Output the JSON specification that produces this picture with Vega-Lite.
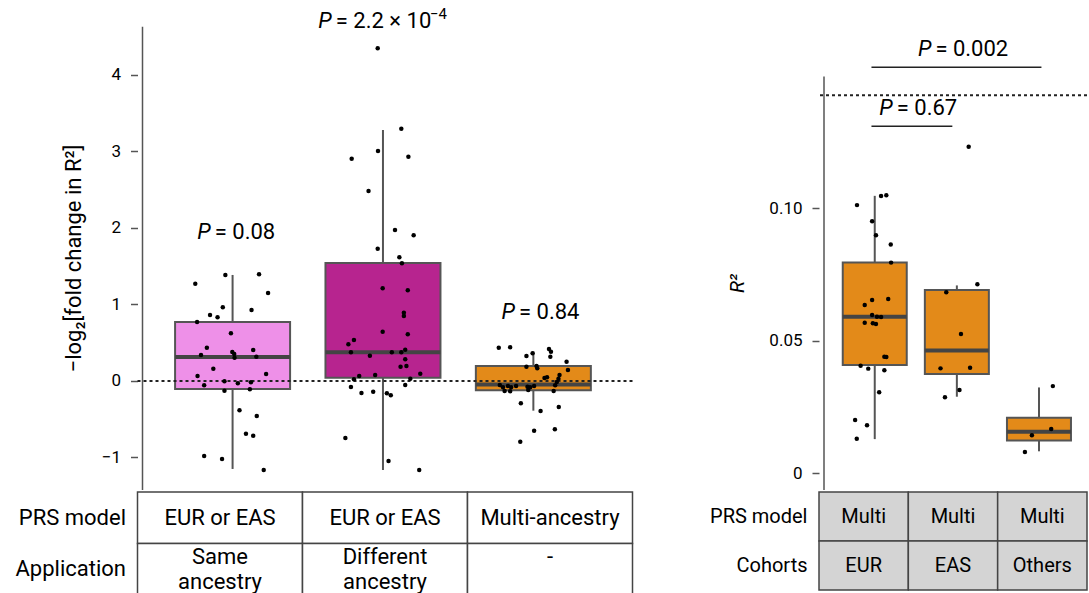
{
  "$schema": "https://vega.github.io/schema/vega-lite/v6.json",
  "padding": {"left": 14.5, "top": 0, "right": 0, "bottom": 0},
  "autosize": {"type": "pad"},
  "config": {"font": "Roboto", "view": {"stroke": null}, "axis": {"grid": false}},
  "datasets": {
    "boxL": [
      {"x": 1, "grp": "a", "lo": -1.15, "q1": -0.105, "med": 0.314, "q3": 0.771, "hi": 1.386},
      {"x": 2, "grp": "b", "lo": -1.163, "q1": 0.043, "med": 0.375, "q3": 1.542, "hi": 3.281},
      {"x": 3, "grp": "c", "lo": -0.388, "q1": -0.122, "med": -0.046, "q3": 0.196, "hi": 0.383}
    ],
    "ptsL": [
      {"x": 0.952, "v": 1.386}, {"x": 1.176, "v": 1.395}, {"x": 0.752, "v": 1.272}, {"x": 1.236, "v": 1.15},
      {"x": 0.935, "v": 0.963}, {"x": 1.126, "v": 0.928}, {"x": 0.85, "v": 0.863}, {"x": 0.9, "v": 0.833},
      {"x": 0.764, "v": 0.771}, {"x": 0.989, "v": 0.624}, {"x": 0.829, "v": 0.435}, {"x": 1.137, "v": 0.405},
      {"x": 0.998, "v": 0.379}, {"x": 1.011, "v": 0.353}, {"x": 0.79, "v": 0.34}, {"x": 1.158, "v": 0.318},
      {"x": 1.013, "v": 0.305}, {"x": 0.872, "v": 0.161}, {"x": 1.223, "v": 0.092}, {"x": 0.767, "v": 0.065},
      {"x": 0.946, "v": -0.004}, {"x": 1.122, "v": -0.017}, {"x": 1.035, "v": -0.03}, {"x": 0.811, "v": -0.056},
      {"x": 0.946, "v": -0.127}, {"x": 1.115, "v": -0.108}, {"x": 1.046, "v": -0.383}, {"x": 1.161, "v": -0.458},
      {"x": 1.089, "v": -0.689}, {"x": 1.137, "v": -0.715}, {"x": 0.811, "v": -0.98}, {"x": 0.93, "v": -1.02},
      {"x": 1.207, "v": -1.163},
      {"x": 1.965, "v": 4.349}, {"x": 2.122, "v": 3.298}, {"x": 1.967, "v": 3.007}, {"x": 2.169, "v": 2.932},
      {"x": 1.792, "v": 2.906}, {"x": 1.904, "v": 2.484}, {"x": 2.08, "v": 1.974}, {"x": 2.204, "v": 1.905},
      {"x": 1.965, "v": 1.729}, {"x": 2.109, "v": 1.617}, {"x": 2.126, "v": 1.539}, {"x": 1.998, "v": 1.212},
      {"x": 2.165, "v": 1.186}, {"x": 2.139, "v": 0.893}, {"x": 2.139, "v": 0.85}, {"x": 1.998, "v": 0.644},
      {"x": 2.165, "v": 0.61}, {"x": 1.807, "v": 0.536}, {"x": 1.77, "v": 0.48}, {"x": 1.787, "v": 0.375},
      {"x": 1.913, "v": 0.331}, {"x": 2.059, "v": 0.375}, {"x": 2.122, "v": 0.375}, {"x": 2.148, "v": 0.409},
      {"x": 2.148, "v": 0.284}, {"x": 2.117, "v": 0.187}, {"x": 2.156, "v": 0.196}, {"x": 2.248, "v": 0.095},
      {"x": 1.842, "v": 0.065}, {"x": 1.948, "v": 0.078}, {"x": 1.807, "v": 0.022}, {"x": 2.182, "v": 0.03},
      {"x": 1.787, "v": -0.078}, {"x": 2.148, "v": -0.052}, {"x": 1.857, "v": -0.157}, {"x": 1.935, "v": -0.14},
      {"x": 2.026, "v": -0.161}, {"x": 2.052, "v": -0.187}, {"x": 1.75, "v": -0.745}, {"x": 2.037, "v": -1.046},
      {"x": 2.241, "v": -1.163},
      {"x": 2.77, "v": 0.435}, {"x": 2.846, "v": 0.441}, {"x": 3.104, "v": 0.418}, {"x": 3.117, "v": 0.383},
      {"x": 2.995, "v": 0.362}, {"x": 2.954, "v": 0.327}, {"x": 3.113, "v": 0.318}, {"x": 3.221, "v": 0.252},
      {"x": 2.954, "v": 0.187}, {"x": 3.021, "v": 0.196}, {"x": 3.026, "v": 0.166}, {"x": 3.23, "v": 0.144},
      {"x": 3.091, "v": 0.048}, {"x": 3.074, "v": 0.039}, {"x": 3.174, "v": 0.078}, {"x": 3.167, "v": 0.03},
      {"x": 3.156, "v": -0.013}, {"x": 3.145, "v": -0.056}, {"x": 2.777, "v": -0.052}, {"x": 2.798, "v": -0.082},
      {"x": 2.831, "v": -0.065}, {"x": 2.852, "v": -0.082}, {"x": 2.885, "v": -0.065}, {"x": 2.809, "v": -0.131},
      {"x": 2.846, "v": -0.135}, {"x": 2.961, "v": -0.075}, {"x": 2.979, "v": -0.082}, {"x": 3.005, "v": -0.065},
      {"x": 2.966, "v": -0.118}, {"x": 3.135, "v": -0.131}, {"x": 2.917, "v": -0.292}, {"x": 3.048, "v": -0.392},
      {"x": 3.169, "v": -0.34}, {"x": 3.005, "v": -0.65}, {"x": 3.143, "v": -0.631}, {"x": 2.913, "v": -0.793}
    ],
    "annL": [
      {"x": 0.855, "v": 1.95, "t": "\u00a0= 0.08"},
      {"x": 1.66, "v": 4.7, "t": "\u00a0= 2.2 × 10"},
      {"x": 2.878, "v": 0.906, "t": "\u00a0= 0.84"}
    ],
    "supL": [
      {"x": 2.312, "v": 4.8, "t": "−4"}
    ],
    "domL": [
      {"x": 0.401, "lo": -1.425, "hi": 4.63, "zero": 0}
    ],
    "boxR": [
      {"x": 1, "lo": 0.0128, "q1": 0.0408, "med": 0.059, "q3": 0.0794, "hi": 0.1046},
      {"x": 2, "lo": 0.0288, "q1": 0.0374, "med": 0.0462, "q3": 0.0691, "hi": 0.0708},
      {"x": 3, "lo": 0.0082, "q1": 0.0123, "med": 0.0156, "q3": 0.0209, "hi": 0.0323}
    ],
    "ptsR": [
      {"x": 1.077, "v": 0.1045}, {"x": 1.141, "v": 0.1048}, {"x": 0.784, "v": 0.1011}, {"x": 0.968, "v": 0.095},
      {"x": 1.015, "v": 0.0897}, {"x": 1.195, "v": 0.0862}, {"x": 1.199, "v": 0.0794}, {"x": 1.164, "v": 0.0657},
      {"x": 0.968, "v": 0.0653}, {"x": 0.878, "v": 0.0634}, {"x": 0.968, "v": 0.0596}, {"x": 1.027, "v": 0.059},
      {"x": 1.077, "v": 0.0589}, {"x": 0.878, "v": 0.0567}, {"x": 0.977, "v": 0.0565}, {"x": 1.015, "v": 0.0562},
      {"x": 1.117, "v": 0.0439}, {"x": 1.141, "v": 0.0438}, {"x": 0.828, "v": 0.0405}, {"x": 0.921, "v": 0.0394},
      {"x": 1.117, "v": 0.0388}, {"x": 1.054, "v": 0.0305}, {"x": 0.761, "v": 0.02}, {"x": 0.906, "v": 0.018},
      {"x": 0.781, "v": 0.0129},
      {"x": 2.144, "v": 0.1231}, {"x": 2.25, "v": 0.0712}, {"x": 1.871, "v": 0.0682}, {"x": 2.05, "v": 0.0525},
      {"x": 1.801, "v": 0.0395}, {"x": 2.161, "v": 0.0397}, {"x": 2.032, "v": 0.0313}, {"x": 1.855, "v": 0.0286},
      {"x": 3.169, "v": 0.0328}, {"x": 3.149, "v": 0.0166}, {"x": 2.914, "v": 0.0143}, {"x": 2.829, "v": 0.0079}
    ],
    "annR": [
      {"x": 1.69, "v": 0.16, "t": "\u00a0= 0.002"},
      {"x": 1.22, "v": 0.1376, "t": "\u00a0= 0.67"}
    ],
    "brR": [
      {"x": 0.96, "x2": 3.03, "v": 0.1531},
      {"x": 0.96, "x2": 1.945, "v": 0.1309}
    ],
    "domR": [
      {"x": 0.382, "lo": -0.0064, "hi": 0.1496, "ref": 0.1426}
    ],
    "tabL": [
      {"row": "PRS model", "col": "a", "t": "EUR or EAS"},
      {"row": "PRS model", "col": "b", "t": "EUR or EAS"},
      {"row": "PRS model", "col": "c", "t": "Multi-ancestry"},
      {"row": "Application", "col": "a", "t": "Same\nancestry"},
      {"row": "Application", "col": "b", "t": "Different\nancestry"},
      {"row": "Application", "col": "c", "t": "-"}
    ],
    "tabR": [
      {"row": "PRS model", "col": "a", "t": "Multi"},
      {"row": "PRS model", "col": "b", "t": "Multi"},
      {"row": "PRS model", "col": "c", "t": "Multi"},
      {"row": "Cohorts", "col": "a", "t": "EUR"},
      {"row": "Cohorts", "col": "b", "t": "EAS"},
      {"row": "Cohorts", "col": "c", "t": "Others"}
    ]
  },
  "spacing": 75.5,
  "hconcat": [
    {
      "spacing": 0,
      "vconcat": [
        {
          "width": 495,
          "height": 490,
          "layer": [
            {
              "data": {"name": "boxL"},
              "mark": {"type": "rule", "color": "#555555", "strokeWidth": 2},
              "encoding": {
                "x": {"field": "x", "type": "quantitative", "scale": {"domain": [0.401, 3.626], "nice": false, "zero": false}, "axis": null},
                "y": {"field": "lo", "type": "quantitative", "scale": {"domain": [-1.425, 4.98], "nice": false, "zero": false},
                  "axis": {"values": [-1, 0, 1, 2, 3, 4], "domain": false, "tickSize": 7, "tickColor": "#555555", "tickWidth": 1.5, "labelFontSize": 17, "labelPadding": 10, "labelColor": "#000000", "title": "−log₂[fold change in R²]", "titleFontSize": 22, "titleFontWeight": "normal", "titleColor": "#000000", "titleX": -52, "titleY": 258}},
                "y2": {"field": "hi"}
              }
            },
            {
              "data": {"name": "boxL"},
              "mark": {"type": "bar", "size": 115, "stroke": "#555555", "strokeWidth": 2},
              "encoding": {
                "x": {"field": "x", "type": "quantitative", "scale": {"domain": [0.401, 3.626], "nice": false, "zero": false}, "axis": null},
                "y": {"field": "q1", "type": "quantitative", "scale": {"domain": [-1.425, 4.98], "nice": false, "zero": false},
                  "axis": {"values": [-1, 0, 1, 2, 3, 4], "domain": false, "tickSize": 7, "tickColor": "#555555", "tickWidth": 1.5, "labelFontSize": 17, "labelPadding": 10, "labelColor": "#000000", "title": "−log₂[fold change in R²]", "titleFontSize": 22, "titleFontWeight": "normal", "titleColor": "#000000", "titleX": -52, "titleY": 258}},
                "y2": {"field": "q3"},
                "color": {"field": "grp", "type": "nominal", "scale": {"domain": ["a", "b", "c"], "range": ["#EE90E8", "#B7248F", "#E38A19"]}, "legend": null}
              }
            },
            {
              "data": {"name": "boxL"},
              "mark": {"type": "tick", "orient": "horizontal", "size": 115, "thickness": 4, "color": "#444444", "opacity": 1},
              "encoding": {
                "x": {"field": "x", "type": "quantitative", "scale": {"domain": [0.401, 3.626], "nice": false, "zero": false}, "axis": null},
                "y": {"field": "med", "type": "quantitative", "scale": {"domain": [-1.425, 4.98], "nice": false, "zero": false},
                  "axis": {"values": [-1, 0, 1, 2, 3, 4], "domain": false, "tickSize": 7, "tickColor": "#555555", "tickWidth": 1.5, "labelFontSize": 17, "labelPadding": 10, "labelColor": "#000000", "title": "−log₂[fold change in R²]", "titleFontSize": 22, "titleFontWeight": "normal", "titleColor": "#000000", "titleX": -52, "titleY": 258}}
              }
            },
            {
              "data": {"name": "domL"},
              "mark": {"type": "rule", "color": "#555555", "strokeWidth": 1.5},
              "encoding": {
                "x": {"field": "x", "type": "quantitative", "scale": {"domain": [0.401, 3.626], "nice": false, "zero": false}, "axis": null},
                "y": {"field": "lo", "type": "quantitative", "scale": {"domain": [-1.425, 4.98], "nice": false, "zero": false},
                  "axis": {"values": [-1, 0, 1, 2, 3, 4], "domain": false, "tickSize": 7, "tickColor": "#555555", "tickWidth": 1.5, "labelFontSize": 17, "labelPadding": 10, "labelColor": "#000000", "title": "−log₂[fold change in R²]", "titleFontSize": 22, "titleFontWeight": "normal", "titleColor": "#000000", "titleX": -52, "titleY": 258}},
                "y2": {"field": "hi"}
              }
            },
            {
              "data": {"name": "domL"},
              "mark": {"type": "rule", "color": "#222222", "strokeWidth": 2, "strokeDash": [3, 3]},
              "encoding": {
                "y": {"field": "zero", "type": "quantitative", "scale": {"domain": [-1.425, 4.98], "nice": false, "zero": false},
                  "axis": {"values": [-1, 0, 1, 2, 3, 4], "domain": false, "tickSize": 7, "tickColor": "#555555", "tickWidth": 1.5, "labelFontSize": 17, "labelPadding": 10, "labelColor": "#000000", "title": "−log₂[fold change in R²]", "titleFontSize": 22, "titleFontWeight": "normal", "titleColor": "#000000", "titleX": -52, "titleY": 258}}
              }
            },
            {
              "data": {"name": "ptsL"},
              "mark": {"type": "circle", "color": "#000000", "opacity": 1, "size": 20},
              "encoding": {
                "x": {"field": "x", "type": "quantitative", "scale": {"domain": [0.401, 3.626], "nice": false, "zero": false}, "axis": null},
                "y": {"field": "v", "type": "quantitative", "scale": {"domain": [-1.425, 4.98], "nice": false, "zero": false},
                  "axis": {"values": [-1, 0, 1, 2, 3, 4], "domain": false, "tickSize": 7, "tickColor": "#555555", "tickWidth": 1.5, "labelFontSize": 17, "labelPadding": 10, "labelColor": "#000000", "title": "−log₂[fold change in R²]", "titleFontSize": 22, "titleFontWeight": "normal", "titleColor": "#000000", "titleX": -52, "titleY": 258}}
              }
            },
            {
              "data": {"name": "annL"},
              "mark": {"type": "text", "text": "P", "fontStyle": "italic", "fontSize": 22, "align": "right", "baseline": "middle", "color": "#000000"},
              "encoding": {
                "x": {"field": "x", "type": "quantitative", "scale": {"domain": [0.401, 3.626], "nice": false, "zero": false}, "axis": null},
                "y": {"field": "v", "type": "quantitative", "scale": {"domain": [-1.425, 4.98], "nice": false, "zero": false},
                  "axis": {"values": [-1, 0, 1, 2, 3, 4], "domain": false, "tickSize": 7, "tickColor": "#555555", "tickWidth": 1.5, "labelFontSize": 17, "labelPadding": 10, "labelColor": "#000000", "title": "−log₂[fold change in R²]", "titleFontSize": 22, "titleFontWeight": "normal", "titleColor": "#000000", "titleX": -52, "titleY": 258}}
              }
            },
            {
              "data": {"name": "annL"},
              "mark": {"type": "text", "fontSize": 22, "align": "left", "baseline": "middle", "dx": 4, "color": "#000000"},
              "encoding": {
                "x": {"field": "x", "type": "quantitative", "scale": {"domain": [0.401, 3.626], "nice": false, "zero": false}, "axis": null},
                "y": {"field": "v", "type": "quantitative", "scale": {"domain": [-1.425, 4.98], "nice": false, "zero": false},
                  "axis": {"values": [-1, 0, 1, 2, 3, 4], "domain": false, "tickSize": 7, "tickColor": "#555555", "tickWidth": 1.5, "labelFontSize": 17, "labelPadding": 10, "labelColor": "#000000", "title": "−log₂[fold change in R²]", "titleFontSize": 22, "titleFontWeight": "normal", "titleColor": "#000000", "titleX": -52, "titleY": 258}},
                "text": {"field": "t"}
              }
            },
            {
              "data": {"name": "supL"},
              "mark": {"type": "text", "fontSize": 15, "align": "left", "baseline": "middle", "color": "#000000"},
              "encoding": {
                "x": {"field": "x", "type": "quantitative", "scale": {"domain": [0.401, 3.626], "nice": false, "zero": false}, "axis": null},
                "y": {"field": "v", "type": "quantitative", "scale": {"domain": [-1.425, 4.98], "nice": false, "zero": false},
                  "axis": {"values": [-1, 0, 1, 2, 3, 4], "domain": false, "tickSize": 7, "tickColor": "#555555", "tickWidth": 1.5, "labelFontSize": 17, "labelPadding": 10, "labelColor": "#000000", "title": "−log₂[fold change in R²]", "titleFontSize": 22, "titleFontWeight": "normal", "titleColor": "#000000", "titleX": -52, "titleY": 258}},
                "text": {"field": "t"}
              }
            }
          ]
        },
        {
          "width": 495,
          "height": 103,
          "data": {"name": "tabL"},
          "encoding": {
            "x": {"field": "col", "type": "nominal", "scale": {"paddingInner": 0, "paddingOuter": 0}, "axis": null},
            "y": {"field": "row", "type": "nominal", "sort": ["PRS model", "Application"], "scale": {"paddingInner": 0, "paddingOuter": 0},
              "axis": {"title": null, "domain": false, "ticks": false, "labelFontSize": 22, "labelPadding": 12, "labelColor": "#000000", "labelLimit": 300}}
          },
          "layer": [
            {"mark": {"type": "rect", "fill": "#FFFFFF", "stroke": "#444444", "strokeWidth": 1.5}},
            {"transform": [{"filter": "datum.row == 'PRS model'"}], "mark": {"type": "text", "fontSize": 22, "baseline": "middle", "color": "#000000"}, "encoding": {"text": {"field": "t"}}},
            {"transform": [{"filter": "datum.row == 'Application'"}], "mark": {"type": "text", "fontSize": 22, "lineBreak": "\n", "lineHeight": 25, "dy": -12.5, "baseline": "middle", "color": "#000000"}, "encoding": {"text": {"field": "t"}}}
          ]
        }
      ]
    },
    {
      "spacing": 0,
      "vconcat": [
        {
          "width": 268,
          "height": 490,
          "layer": [
            {
              "data": {"name": "boxR"},
              "mark": {"type": "rule", "color": "#555555", "strokeWidth": 2},
              "encoding": {
                "x": {"field": "x", "type": "quantitative", "scale": {"domain": [0.382, 3.524], "nice": false, "zero": false}, "axis": null},
                "y": {"field": "lo", "type": "quantitative", "scale": {"domain": [-0.0064, 0.1785], "nice": false, "zero": false},
                  "axis": {"values": [0, 0.05, 0.1], "labelExpr": "datum.value == 0 ? '0' : format(datum.value, '.2f')", "domain": false, "tickSize": 7, "tickColor": "#555555", "tickWidth": 1.5, "labelFontSize": 17, "labelPadding": 10, "labelColor": "#000000", "title": "R²", "titleFontSize": 20, "titleFontStyle": "italic", "titleFontWeight": "normal", "titleColor": "#000000", "titleX": -72, "titleY": 283}},
                "y2": {"field": "hi"}
              }
            },
            {
              "data": {"name": "boxR"},
              "mark": {"type": "bar", "size": 64, "fill": "#E38A19", "stroke": "#555555", "strokeWidth": 2},
              "encoding": {
                "x": {"field": "x", "type": "quantitative", "scale": {"domain": [0.382, 3.524], "nice": false, "zero": false}, "axis": null},
                "y": {"field": "q1", "type": "quantitative", "scale": {"domain": [-0.0064, 0.1785], "nice": false, "zero": false},
                  "axis": {"values": [0, 0.05, 0.1], "labelExpr": "datum.value == 0 ? '0' : format(datum.value, '.2f')", "domain": false, "tickSize": 7, "tickColor": "#555555", "tickWidth": 1.5, "labelFontSize": 17, "labelPadding": 10, "labelColor": "#000000", "title": "R²", "titleFontSize": 20, "titleFontStyle": "italic", "titleFontWeight": "normal", "titleColor": "#000000", "titleX": -72, "titleY": 283}},
                "y2": {"field": "q3"}
              }
            },
            {
              "data": {"name": "boxR"},
              "mark": {"type": "tick", "orient": "horizontal", "size": 64, "thickness": 4, "color": "#444444", "opacity": 1},
              "encoding": {
                "x": {"field": "x", "type": "quantitative", "scale": {"domain": [0.382, 3.524], "nice": false, "zero": false}, "axis": null},
                "y": {"field": "med", "type": "quantitative", "scale": {"domain": [-0.0064, 0.1785], "nice": false, "zero": false},
                  "axis": {"values": [0, 0.05, 0.1], "labelExpr": "datum.value == 0 ? '0' : format(datum.value, '.2f')", "domain": false, "tickSize": 7, "tickColor": "#555555", "tickWidth": 1.5, "labelFontSize": 17, "labelPadding": 10, "labelColor": "#000000", "title": "R²", "titleFontSize": 20, "titleFontStyle": "italic", "titleFontWeight": "normal", "titleColor": "#000000", "titleX": -72, "titleY": 283}}
              }
            },
            {
              "data": {"name": "domR"},
              "mark": {"type": "rule", "color": "#555555", "strokeWidth": 1.5},
              "encoding": {
                "x": {"field": "x", "type": "quantitative", "scale": {"domain": [0.382, 3.524], "nice": false, "zero": false}, "axis": null},
                "y": {"field": "lo", "type": "quantitative", "scale": {"domain": [-0.0064, 0.1785], "nice": false, "zero": false},
                  "axis": {"values": [0, 0.05, 0.1], "labelExpr": "datum.value == 0 ? '0' : format(datum.value, '.2f')", "domain": false, "tickSize": 7, "tickColor": "#555555", "tickWidth": 1.5, "labelFontSize": 17, "labelPadding": 10, "labelColor": "#000000", "title": "R²", "titleFontSize": 20, "titleFontStyle": "italic", "titleFontWeight": "normal", "titleColor": "#000000", "titleX": -72, "titleY": 283}},
                "y2": {"field": "hi"}
              }
            },
            {
              "data": {"name": "domR"},
              "mark": {"type": "rule", "color": "#222222", "strokeWidth": 2, "strokeDash": [3, 3]},
              "encoding": {
                "y": {"field": "ref", "type": "quantitative", "scale": {"domain": [-0.0064, 0.1785], "nice": false, "zero": false},
                  "axis": {"values": [0, 0.05, 0.1], "labelExpr": "datum.value == 0 ? '0' : format(datum.value, '.2f')", "domain": false, "tickSize": 7, "tickColor": "#555555", "tickWidth": 1.5, "labelFontSize": 17, "labelPadding": 10, "labelColor": "#000000", "title": "R²", "titleFontSize": 20, "titleFontStyle": "italic", "titleFontWeight": "normal", "titleColor": "#000000", "titleX": -72, "titleY": 283}}
              }
            },
            {
              "data": {"name": "brR"},
              "mark": {"type": "rule", "color": "#222222", "strokeWidth": 1.5},
              "encoding": {
                "x": {"field": "x", "type": "quantitative", "scale": {"domain": [0.382, 3.524], "nice": false, "zero": false}, "axis": null},
                "x2": {"field": "x2"},
                "y": {"field": "v", "type": "quantitative", "scale": {"domain": [-0.0064, 0.1785], "nice": false, "zero": false},
                  "axis": {"values": [0, 0.05, 0.1], "labelExpr": "datum.value == 0 ? '0' : format(datum.value, '.2f')", "domain": false, "tickSize": 7, "tickColor": "#555555", "tickWidth": 1.5, "labelFontSize": 17, "labelPadding": 10, "labelColor": "#000000", "title": "R²", "titleFontSize": 20, "titleFontStyle": "italic", "titleFontWeight": "normal", "titleColor": "#000000", "titleX": -72, "titleY": 283}}
              }
            },
            {
              "data": {"name": "ptsR"},
              "mark": {"type": "circle", "color": "#000000", "opacity": 1, "size": 20},
              "encoding": {
                "x": {"field": "x", "type": "quantitative", "scale": {"domain": [0.382, 3.524], "nice": false, "zero": false}, "axis": null},
                "y": {"field": "v", "type": "quantitative", "scale": {"domain": [-0.0064, 0.1785], "nice": false, "zero": false},
                  "axis": {"values": [0, 0.05, 0.1], "labelExpr": "datum.value == 0 ? '0' : format(datum.value, '.2f')", "domain": false, "tickSize": 7, "tickColor": "#555555", "tickWidth": 1.5, "labelFontSize": 17, "labelPadding": 10, "labelColor": "#000000", "title": "R²", "titleFontSize": 20, "titleFontStyle": "italic", "titleFontWeight": "normal", "titleColor": "#000000", "titleX": -72, "titleY": 283}}
              }
            },
            {
              "data": {"name": "annR"},
              "mark": {"type": "text", "text": "P", "fontStyle": "italic", "fontSize": 22, "align": "right", "baseline": "middle", "color": "#000000"},
              "encoding": {
                "x": {"field": "x", "type": "quantitative", "scale": {"domain": [0.382, 3.524], "nice": false, "zero": false}, "axis": null},
                "y": {"field": "v", "type": "quantitative", "scale": {"domain": [-0.0064, 0.1785], "nice": false, "zero": false},
                  "axis": {"values": [0, 0.05, 0.1], "labelExpr": "datum.value == 0 ? '0' : format(datum.value, '.2f')", "domain": false, "tickSize": 7, "tickColor": "#555555", "tickWidth": 1.5, "labelFontSize": 17, "labelPadding": 10, "labelColor": "#000000", "title": "R²", "titleFontSize": 20, "titleFontStyle": "italic", "titleFontWeight": "normal", "titleColor": "#000000", "titleX": -72, "titleY": 283}}
              }
            },
            {
              "data": {"name": "annR"},
              "mark": {"type": "text", "fontSize": 22, "align": "left", "baseline": "middle", "dx": 4, "color": "#000000"},
              "encoding": {
                "x": {"field": "x", "type": "quantitative", "scale": {"domain": [0.382, 3.524], "nice": false, "zero": false}, "axis": null},
                "y": {"field": "v", "type": "quantitative", "scale": {"domain": [-0.0064, 0.1785], "nice": false, "zero": false},
                  "axis": {"values": [0, 0.05, 0.1], "labelExpr": "datum.value == 0 ? '0' : format(datum.value, '.2f')", "domain": false, "tickSize": 7, "tickColor": "#555555", "tickWidth": 1.5, "labelFontSize": 17, "labelPadding": 10, "labelColor": "#000000", "title": "R²", "titleFontSize": 20, "titleFontStyle": "italic", "titleFontWeight": "normal", "titleColor": "#000000", "titleX": -72, "titleY": 283}},
                "text": {"field": "t"}
              }
            }
          ]
        },
        {
          "width": 268,
          "height": 98,
          "data": {"name": "tabR"},
          "encoding": {
            "x": {"field": "col", "type": "nominal", "scale": {"paddingInner": 0, "paddingOuter": 0}, "axis": null},
            "y": {"field": "row", "type": "nominal", "sort": ["PRS model", "Cohorts"], "scale": {"paddingInner": 0, "paddingOuter": 0},
              "axis": {"title": null, "domain": false, "ticks": false, "labelFontSize": 20, "labelPadding": 12, "labelColor": "#000000", "labelLimit": 300}}
          },
          "layer": [
            {"mark": {"type": "rect", "fill": "#D4D4D4", "stroke": "#444444", "strokeWidth": 1.5}},
            {"mark": {"type": "text", "fontSize": 20, "baseline": "middle", "color": "#000000"}, "encoding": {"text": {"field": "t"}}}
          ]
        }
      ]
    }
  ]
}
